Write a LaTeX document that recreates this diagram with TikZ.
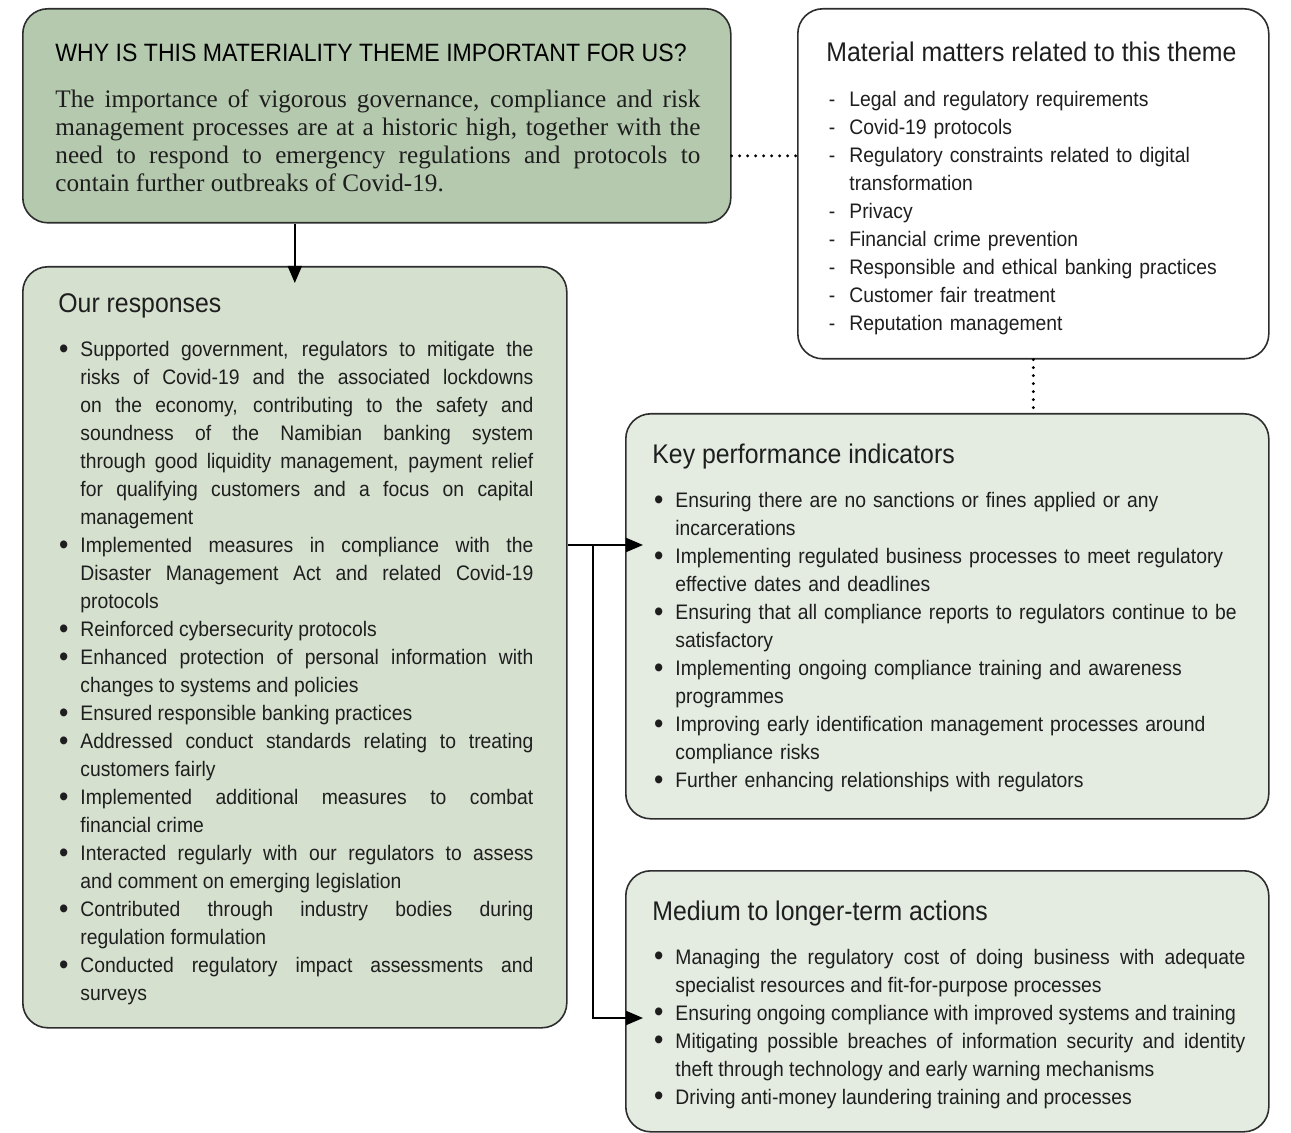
\documentclass[tikz,border=0pt]{standalone}
\usepackage{fontspec}
\setmainfont{Liberation Sans}[FakeStretch=0.92]
\newfontfamily\leadserif{Liberation Serif}
\usetikzlibrary{arrows.meta,positioning}

\definecolor{themegreen}{RGB}{181,201,174}
\definecolor{respgreen}{RGB}{213,224,207}
\definecolor{palegreen}{RGB}{228,235,225}
\definecolor{edgegrey}{RGB}{45,45,45}
\definecolor{inkgrey}{RGB}{30,30,30}

\newcommand{\bul}[1]{\noindent\llap{\raisebox{-0.9pt}{\fontsize{14.5}{14}\selectfont\textbullet}\hspace{6pt}}#1\par}
\newcommand{\dashitem}[1]{\noindent\llap{-\hspace{7pt}}#1\par}

\begin{document}
\begin{tikzpicture}[
  x=0.5pt, y=-0.5pt,
  font=\fontsize{10.5}{14}\selectfont, text=inkgrey,
  panel/.style={draw=edgegrey, line width=0.8pt, rounded corners=12.5pt,
    anchor=north west, inner sep=0pt},
  heading/.style={anchor=base west, inner sep=0pt,
    font=\fontsize{13.5}{16}\selectfont},
  listtext/.style={anchor=base west, inner sep=0pt,
    execute at begin node={\tolerance=10000\hyphenpenalty=10000\exhyphenpenalty=10000}},
  arrow/.style={-{Triangle[length=8.5pt,width=7pt]}, line width=1pt},
  dotline/.style={line width=1.6pt, line cap=round, dash pattern=on 0pt off 4pt}
]
\useasboundingbox (0,0) rectangle (1291,1133);

% panels
\node[panel, fill=themegreen, minimum width=354pt, minimum height=107pt] (why) at (22,8) {};
\node[panel, fill=white, minimum width=235.5pt, minimum height=175pt] (mat) at (797,8) {};
\node[panel, fill=respgreen, minimum width=272pt, minimum height=380.5pt] (resp) at (22,266) {};
\node[panel, fill=palegreen, minimum width=321.5pt, minimum height=202.5pt] (kpi) at (625,413) {};
\node[panel, fill=palegreen, minimum width=321.5pt, minimum height=130.5pt] (med) at (625,870) {};

% why box
\node[heading, font=\fontsize{12.55}{14}\selectfont, text=black] (whyhead) at (55,62)
  {WHY IS THIS MATERIALITY THEME IMPORTANT FOR US?};
\node[listtext, text width=322.5pt, align=justify,
  font=\leadserif\fontsize{12.6}{14}\selectfont] (whytext) at (55,108)
  {The importance of vigorous governance, compliance and risk\linebreak
   management processes are at a historic high, together with the\linebreak
   need to respond to emergency regulations and protocols to\linebreak
   contain further outbreaks of Covid-19.};

% material matters
\node[heading] (mathead) at (826,62) {Material matters related to this theme};
\node[listtext, text width=200pt, align=left] (matlist) at (849,107)
  {\dashitem{Legal and regulatory requirements}
   \dashitem{Covid-19 protocols}
   \dashitem{Regulatory constraints related to digital\newline transformation}
   \dashitem{Privacy}
   \dashitem{Financial crime prevention}
   \dashitem{Responsible and ethical banking practices}
   \dashitem{Customer fair treatment}
   \dashitem{Reputation management}};

% our responses
\node[heading] (resphead) at (58,313) {Our responses};
\node[listtext, text width=226.5pt, align=justify] (resplist) at (80,357)
  {\bul{Supported government, regulators to mitigate the\linebreak
   risks of Covid-19 and the associated lockdowns\linebreak
   on the economy, contributing to the safety and\linebreak
   soundness of the Namibian banking system\linebreak
   through good liquidity management, payment relief\linebreak
   for qualifying customers and a focus on capital\linebreak
   management}
   \bul{Implemented measures in compliance with the\linebreak
   Disaster Management Act and related Covid-19\linebreak
   protocols}
   \bul{Reinforced cybersecurity protocols}
   \bul{Enhanced protection of personal information with\linebreak
   changes to systems and policies}
   \bul{Ensured responsible banking practices}
   \bul{Addressed conduct standards relating to treating\linebreak
   customers fairly}
   \bul{Implemented additional measures to combat\linebreak
   financial crime}
   \bul{Interacted regularly with our regulators to assess\linebreak
   and comment on emerging legislation}
   \bul{Contributed through industry bodies during\linebreak
   regulation formulation}
   \bul{Conducted regulatory impact assessments and\linebreak
   surveys}};

% key performance indicators
\node[heading] (kpihead) at (652,464) {Key performance indicators};
\node[listtext, text width=290pt, align=left] (kpilist) at (675,508)
  {\bul{Ensuring there are no sanctions or fines applied or any\newline
   incarcerations}
   \bul{Implementing regulated business processes to meet regulatory\newline
   effective dates and deadlines}
   \bul{Ensuring that all compliance reports to regulators continue to be\newline
   satisfactory}
   \bul{Implementing ongoing compliance training and awareness\newline
   programmes}
   \bul{Improving early identification management processes around\newline
   compliance risks}
   \bul{Further enhancing relationships with regulators}};

% medium to longer-term
\node[heading] (medhead) at (652,920) {Medium to longer-term actions};
\node[listtext, text width=285pt, align=justify] (medlist) at (675,964)
  {\bul{Managing the regulatory cost of doing business with adequate\linebreak
   specialist resources and fit-for-purpose processes}
   \bul{Ensuring ongoing compliance with improved systems and training}
   \bul{Mitigating possible breaches of information security and identity\linebreak
   theft through technology and early warning mechanisms}
   \bul{Driving anti-money laundering training and processes}};

% connectors
\coordinate (fork) at (593,545);
\coordinate (kpiin) at (643,545);
\coordinate (medin) at (643,1018);

\draw[arrow] (resp.north |- why.south) -- ([yshift=-8.5pt]resp.north);
\draw[dotline] ([yshift=-20pt]why.east) -- ([yshift=-20pt]why.east -| mat.west);
\draw[dotline] (mat.south) -- (mat.south |- kpi.north);
\draw[arrow] (resp.east |- kpiin) -- (kpiin);
\draw[arrow] (fork) |- (medin);
\end{tikzpicture}
\end{document}
